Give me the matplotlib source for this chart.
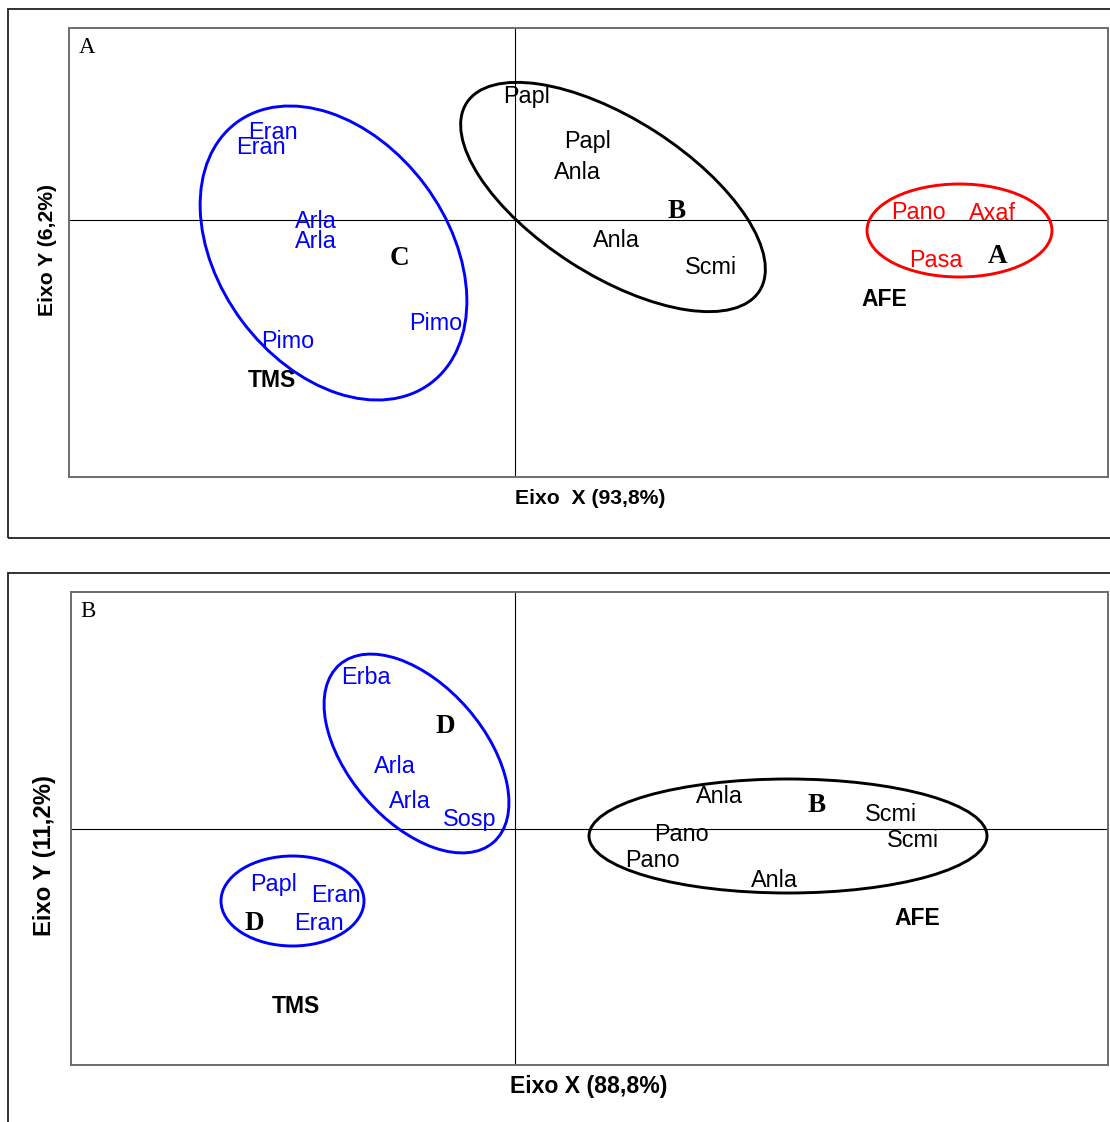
import matplotlib
matplotlib.use('Agg')
from matplotlib import pyplot as plt
from matplotlib.patches import Ellipse, Rectangle

W, H = 1110, 1122

# ---- painel A: escores das especies (Eixo X 93,8% / Eixo Y 6,2%)
a_blue_lab = ['Eran', 'Eran', 'Arla', 'Arla', 'Pimo', 'Pimo']
a_blue_x = [-2.67, -2.79, -2.20, -2.20, -2.54, -1.06]
a_blue_y = [0.81, 0.66, -0.08, -0.28, -1.28, -1.10]

a_black_lab = ['Papl', 'Papl', 'Anla', 'Anla', 'Scmi']
a_black_x = [-0.12, 0.49, 0.39, 0.78, 1.70]
a_black_y = [1.17, 0.72, 0.41, -0.27, -0.54]

a_red_lab = ['Pano', 'Axaf', 'Pasa']
a_red_x = [3.76, 4.54, 3.94]
a_red_y = [0.01, 0.00, -0.47]

a_grp_lab = ['C', 'B', 'A']
a_grp_x = [-1.25, 1.53, 4.73]
a_grp_y = [-0.45, 0.02, -0.43]

a_trt_lab = ['TMS', 'AFE']
a_trt_x = [-2.67, 3.46]
a_trt_y = [-1.67, -0.86]

# grupos: centro, largura, altura, angulo
a_ell_xy = [(-1.815, -0.33), (0.98, 0.23), (4.445, -0.105)]
a_ell_w = [3.25, 3.48, 1.85]
a_ell_h = [2.28, 1.56, 0.93]
a_ell_ang = [-53.3, -32.7, 0.0]
a_ell_col = ['#0000ff', 'black', '#ff0000']

# ---- painel B: (Eixo X 88,8% / Eixo Y 11,2%)
b_blue_lab = ['Erba', 'Arla', 'Arla', 'Sosp', 'Papl', 'Eran', 'Eran']
b_blue_x = [-1.74, -1.41, -1.26, -0.72, -2.65, -2.04, -2.21]
b_blue_y = [1.45, 0.56, 0.21, 0.03, -0.62, -0.73, -1.01]

b_black_lab = ['Anla', 'Scmi', 'Pano', 'Scmi', 'Pano', 'Anla']
b_black_x = [1.81, 3.50, 1.39, 3.72, 1.10, 2.36]
b_black_y = [0.26, 0.08, -0.12, -0.18, -0.38, -0.58]

b_grp_lab = ['D', 'D', 'B']
b_grp_x = [-0.79, -2.71, 2.93]
b_grp_y = [0.96, -1.01, 0.17]

b_trt_lab = ['TMS', 'AFE']
b_trt_x = [-2.43, 3.79]
b_trt_y = [-1.84, -0.96]

b_ell_xy = [(-0.985, 0.755), (-2.225, -0.72), (2.73, -0.07)]
b_ell_w = [2.35, 1.43, 3.98]
b_ell_h = [1.36, 0.90, 1.14]
b_ell_ang = [-49.2, 0.0, 0.0]
b_ell_col = ['#0000ff', '#0000ff', 'black']


def px(x, y):
    return x / W, 1 - y / H


def draw_panel(ax, letter, xlim, ylim, groups, grp, trt, ells):
    ax.set_xlim(*xlim)
    ax.set_ylim(*ylim)
    ax.set_xticks([])
    ax.set_yticks([])
    for s in ax.spines.values():
        s.set_color('#6e6e6e')
        s.set_linewidth(1.4)
    ax.axhline(0, color='black', lw=0.8, zorder=1)
    ax.axvline(0, color='black', lw=0.8, zorder=1)

    for lab, xs, ys, col in groups:
        for t, x, y in zip(lab, xs, ys):
            ax.text(x, y, t, color=col, fontsize=16.8, family='Liberation Sans',
                    ha='left', va='baseline')
    for t, x, y in zip(*grp):
        ax.text(x, y, t, fontsize=19.5, family='Liberation Serif', weight='bold',
                ha='left', va='baseline')
    for t, x, y in zip(*trt):
        ax.text(x, y, t, fontsize=16.5, family='Liberation Sans', weight='bold',
                ha='left', va='baseline')
    for xy, w, h, ang, col in zip(*ells):
        ax.add_patch(Ellipse(xy, w, h, angle=ang, fill=False, ec=col, lw=2.1, zorder=3))

    ax.text(0.009, 0.98, letter, transform=ax.transAxes, fontsize=16.5,
            family='Liberation Serif', ha='left', va='top')


fig = plt.figure(figsize=(W / 100, H / 100), dpi=100)

# molduras externas de cada painel
fig.patches.append(Rectangle(px(8, 538), 1200 / W, 529 / H, transform=fig.transFigure,
                             fill=False, ec='#222222', lw=1.3))
fig.patches.append(Rectangle(px(8, 1200), 1200 / W, 627 / H, transform=fig.transFigure,
                             fill=False, ec='#222222', lw=1.3))

ax1 = fig.add_axes([69 / W, 1 - 477 / H, 1039 / W, 449 / H])
draw_panel(ax1, 'A', (-4.46, 5.93), (-2.57, 1.92),
           [(a_blue_lab, a_blue_x, a_blue_y, '#0000ff'),
            (a_black_lab, a_black_x, a_black_y, 'black'),
            (a_red_lab, a_red_x, a_red_y, '#ff0000')],
           (a_grp_lab, a_grp_x, a_grp_y),
           (a_trt_lab, a_trt_x, a_trt_y),
           (a_ell_xy, a_ell_w, a_ell_h, a_ell_ang, a_ell_col))

ax2 = fig.add_axes([71 / W, 1 - 1065 / H, 1037 / W, 473 / H])
draw_panel(ax2, 'B', (-4.44, 5.93), (-2.36, 2.37),
           [(b_blue_lab, b_blue_x, b_blue_y, '#0000ff'),
            (b_black_lab, b_black_x, b_black_y, 'black')],
           (b_grp_lab, b_grp_x, b_grp_y),
           (b_trt_lab, b_trt_x, b_trt_y),
           (b_ell_xy, b_ell_w, b_ell_h, b_ell_ang, b_ell_col))

# titulos dos eixos
fig.text(*px(515, 504), 'Eixo  X (93,8%)', fontsize=15.2, weight='bold',
         family='Liberation Sans', ha='left', va='baseline')
fig.text(*px(53, 250), 'Eixo Y (6,2%)', fontsize=15.2, weight='bold',
         family='Liberation Sans', rotation=90, rotation_mode='anchor',
         ha='center', va='baseline')
fig.text(*px(510, 1093), 'Eixo X (88,8%)', fontsize=16.6, weight='bold',
         family='Liberation Sans', ha='left', va='baseline')
fig.text(*px(51, 855), 'Eixo Y (11,2%)', fontsize=17.2, weight='bold',
         family='Liberation Sans', rotation=90, rotation_mode='anchor',
         ha='center', va='baseline')

fig.savefig('out.png', dpi=100)
